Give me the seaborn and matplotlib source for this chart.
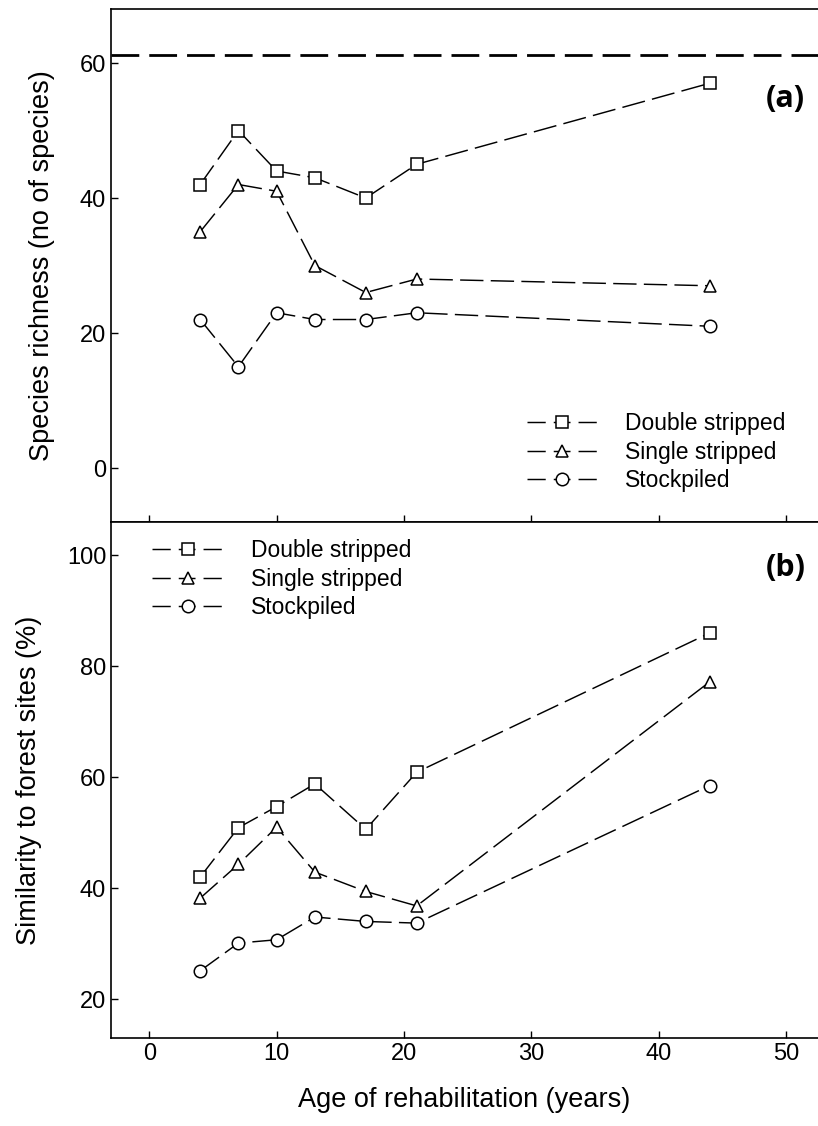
import matplotlib
matplotlib.use("Agg")
import matplotlib.pyplot as plt
import pandas as pd
import seaborn as sns

# ── Data ────────────────────────────────────────────────────────────────────
AGE = [4, 7, 10, 13, 17, 21, 44]
SERIES = ["Double stripped", "Single stripped", "Stockpiled"]

RICH_DOUBLE = [42, 50, 44, 43, 40, 45, 57]
RICH_SINGLE = [35, 42, 41, 30, 26, 28, 27]
RICH_STOCK = [22, 15, 23, 22, 22, 23, 21]
RICH_FOREST = 61.2  # forest reference line

SIM_DOUBLE = [42, 50.9, 54.7, 58.8, 50.6, 60.9, 86]
SIM_SINGLE = [38.2, 44.3, 51.0, 42.9, 39.4, 36.8, 77.2]
SIM_STOCK = [25.1, 30.1, 30.7, 34.8, 34.0, 33.7, 58.5]

X_TICKS = [0, 10, 20, 30, 40, 50]
RICH_TICKS = [0, 20, 40, 60]
SIM_TICKS = [20, 40, 60, 80, 100]

MARKERS = {"Double stripped": "s", "Single stripped": "^", "Stockpiled": "o"}
MSIZE = {"Double stripped": 8, "Single stripped": 9, "Stockpiled": 9}
DASH = (16, 5)
LEGEND_DASH = (12.5, 5.5, 11.5, 5.5)


def to_long(values):
    rows = []
    for name, vals in zip(SERIES, values):
        for a, v in zip(AGE, vals):
            rows.append({"age": a, "value": v, "series": name})
    return pd.DataFrame(rows)


rich_df = to_long([RICH_DOUBLE, RICH_SINGLE, RICH_STOCK])
sim_df = to_long([SIM_DOUBLE, SIM_SINGLE, SIM_STOCK])

sns.set_theme(style="ticks", rc={"text.color": "black", "axes.labelcolor": "black",
                                 "xtick.color": "black", "ytick.color": "black",
                                 "axes.edgecolor": "black"})
plt.rcParams["font.family"] = ["Liberation Sans Narrow", "Liberation Sans", "DejaVu Sans"]

fig = plt.figure(figsize=(8.18, 11.26), dpi=100)
ax_a = fig.add_axes([0.1357, 0.5364, 0.8643, 0.4556])
ax_b = fig.add_axes([0.1357, 0.0782, 0.8643, 0.4582])


def draw(ax, df):
    for name in SERIES:
        sub = df[df["series"] == name]
        sns.lineplot(
            data=sub, x="age", y="value", ax=ax, label=name,
            color="black", linewidth=1.05, dashes=False,
            marker=MARKERS[name], markersize=MSIZE[name],
            markerfacecolor="white", markeredgecolor="black",
            markeredgewidth=1.1, legend=False,
        )
    for line in ax.get_lines():
        line.set_dashes(DASH)


draw(ax_a, rich_df)
draw(ax_b, sim_df)

ax_a.axhline(RICH_FOREST, color="black", linewidth=2.0, dashes=(10, 3.6))

for ax in (ax_a, ax_b):
    ax.set_xlim(-3, 52.5)
    ax.set_xticks(X_TICKS)
    ax.tick_params(direction="in", length=5, width=1, labelsize=17, color="black")
    ax.spines["right"].set_visible(False)
    for s in ("left", "top", "bottom"):
        ax.spines[s].set_linewidth(1.2)
        ax.spines[s].set_color("black")
    ax.set_xlabel("")

ax_a.set_ylim(-8, 68)
ax_a.set_yticks(RICH_TICKS)
ax_a.tick_params(axis="x", labelbottom=False)
ax_a.set_ylabel("Species richness (no of species)", fontsize=19.5)
ax_a.yaxis.set_label_coords(-0.079, 0.5)

ax_b.set_ylim(13, 106)
ax_b.set_yticks(SIM_TICKS)
ax_b.set_ylabel("Similarity to forest sites (%)", fontsize=19.5)
ax_b.yaxis.set_label_coords(-0.097, 0.5)
ax_b.set_xlabel("Age of rehabilitation (years)", fontsize=19.5, labelpad=16)


def legend(ax, loc, anchor):
    handles, labels = ax.get_legend_handles_labels()
    lg = ax.legend(
        handles[:3], labels[:3], loc=loc, bbox_to_anchor=anchor,
        frameon=False, fontsize=16.5, handlelength=3.1, handletextpad=1.2,
        labelspacing=0.25, numpoints=1, borderaxespad=0,
    )
    for h in lg.legend_handles:
        h.set_dashes(LEGEND_DASH)


legend(ax_a, "lower left", (0.575, 0.04))
legend(ax_b, "upper left", (0.045, 0.985))

ax_a.text(0.982, 0.824, "(a)", transform=ax_a.transAxes, ha="right", va="center",
          fontsize=22, fontweight="bold", family=["Open Sans", "DejaVu Sans"])
ax_b.text(0.982, 0.91, "(b)", transform=ax_b.transAxes, ha="right", va="center",
          fontsize=22, fontweight="bold", family=["Open Sans", "DejaVu Sans"])

fig.savefig("out.png", dpi=100)
plt.close(fig)
